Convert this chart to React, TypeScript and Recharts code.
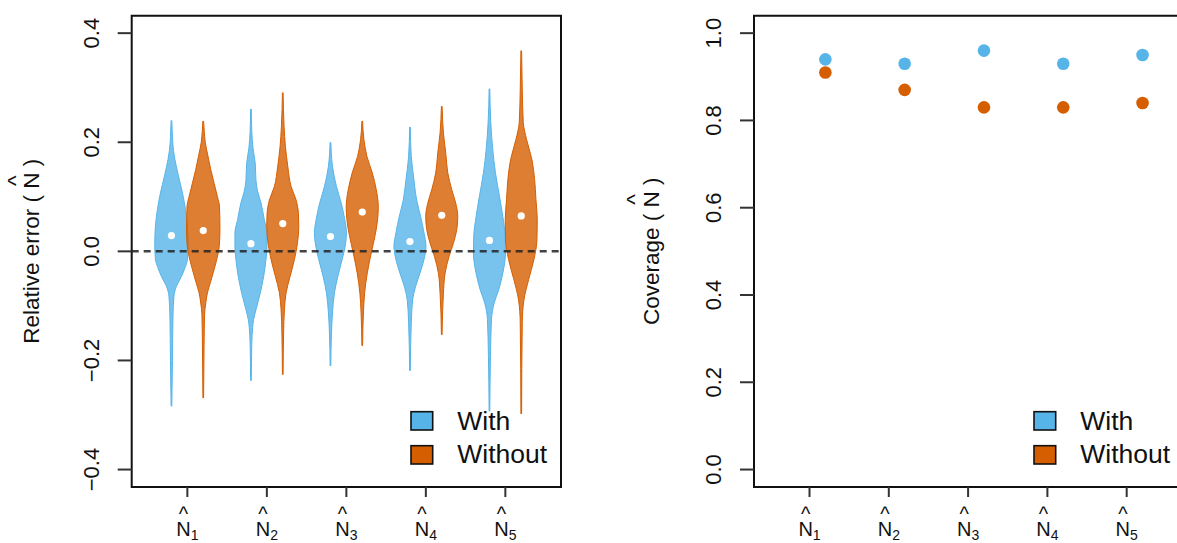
import { Area, ComposedChart, Legend, ReferenceArea, ReferenceLine, Scatter, XAxis, YAxis } from "recharts"

const estimators = ["1", "2", "3", "4", "5"]
const groups = ["With", "Without"]
const colors: Record<string, string> = { With: "#56B4E9", Without: "#D55E00" }

// violin outlines: [relative error, width relative to the widest part]
const withViolins: number[][][] = [
  [[-0.284, 0.02], [-0.2, 0.06], [-0.12, 0.09], [-0.082, 0.15], [-0.064, 0.3], [-0.046, 0.6], [-0.03, 0.81], [-0.015, 0.96], [0.013, 1.0], [0.046, 0.96], [0.077, 0.84], [0.107, 0.66], [0.138, 0.42], [0.168, 0.21], [0.185, 0.12], [0.21, 0.06], [0.24, 0.02]],
  [[-0.237, 0.02], [-0.17, 0.05], [-0.14, 0.1], [-0.125, 0.16], [-0.107, 0.3], [-0.076, 0.56], [-0.046, 0.76], [-0.015, 0.9], [0.009, 0.96], [0.034, 0.96], [0.058, 0.8], [0.089, 0.6], [0.11, 0.4], [0.13, 0.3], [0.16, 0.26], [0.19, 0.12], [0.22, 0.05], [0.261, 0.02]],
  [[-0.21, 0.02], [-0.15, 0.06], [-0.113, 0.12], [-0.076, 0.24], [-0.046, 0.44], [-0.015, 0.7], [0.009, 0.88], [0.034, 0.96], [0.058, 0.86], [0.089, 0.64], [0.119, 0.36], [0.156, 0.12], [0.18, 0.05], [0.2, 0.02]],
  [[-0.219, 0.02], [-0.131, 0.08], [-0.089, 0.16], [-0.064, 0.34], [-0.04, 0.6], [-0.015, 0.84], [0.009, 0.96], [0.034, 0.84], [0.064, 0.64], [0.094, 0.4], [0.131, 0.24], [0.174, 0.08], [0.228, 0.02]],
  [[-0.293, 0.02], [-0.193, 0.06], [-0.125, 0.12], [-0.095, 0.28], [-0.07, 0.56], [-0.04, 0.8], [-0.003, 0.96], [0.028, 0.94], [0.064, 0.8], [0.101, 0.6], [0.144, 0.36], [0.186, 0.2], [0.236, 0.08], [0.298, 0.02]],
]
const withoutViolins: number[][][] = [
  [[-0.269, 0.02], [-0.17, 0.05], [-0.115, 0.08], [-0.095, 0.15], [-0.076, 0.25], [-0.055, 0.45], [-0.03, 0.68], [-0.005, 0.88], [0.01, 0.96], [0.04, 1.0], [0.083, 0.97], [0.1, 0.85], [0.125, 0.65], [0.15, 0.45], [0.175, 0.28], [0.2, 0.12], [0.22, 0.06], [0.239, 0.02]],
  [[-0.226, 0.02], [-0.15, 0.05], [-0.107, 0.1], [-0.076, 0.2], [-0.046, 0.44], [-0.015, 0.7], [0.015, 0.88], [0.046, 0.96], [0.069, 0.94], [0.094, 0.8], [0.119, 0.5], [0.156, 0.3], [0.192, 0.16], [0.229, 0.08], [0.26, 0.04], [0.291, 0.02]],
  [[-0.173, 0.02], [-0.113, 0.07], [-0.077, 0.14], [-0.04, 0.3], [-0.003, 0.54], [0.028, 0.76], [0.058, 0.92], [0.082, 0.96], [0.113, 0.84], [0.144, 0.6], [0.174, 0.28], [0.205, 0.1], [0.239, 0.02]],
  [[-0.153, 0.02], [-0.077, 0.1], [-0.04, 0.2], [-0.009, 0.44], [0.015, 0.7], [0.04, 0.9], [0.064, 0.96], [0.088, 0.84], [0.113, 0.6], [0.144, 0.36], [0.18, 0.24], [0.217, 0.1], [0.266, 0.02]],
  [[-0.298, 0.02], [-0.131, 0.06], [-0.089, 0.16], [-0.052, 0.44], [-0.015, 0.76], [0.021, 0.94], [0.058, 0.96], [0.095, 0.88], [0.132, 0.8], [0.168, 0.64], [0.205, 0.32], [0.236, 0.12], [0.297, 0.06], [0.368, 0.02]],
]
const withMedians = [0.029, 0.014, 0.027, 0.018, 0.02]
const withoutMedians = [0.038, 0.051, 0.072, 0.066, 0.065]

// coverage, right panel
const coverageWith = [0.94, 0.93, 0.96, 0.93, 0.95]
const coverageWithout = [0.91, 0.87, 0.83, 0.83, 0.84]

const errorTicks = [-0.4, -0.2, 0, 0.2, 0.4]
const coverageTicks = [0, 0.2, 0.4, 0.6, 0.8, 1]
const catTicks = [1, 2, 3, 4, 5]

const FONT = '"Liberation Sans", Arial, sans-serif'
const INK = "#111"
const dodge = 0.2
const halfWidth = 0.21

const violins = [
  ...withViolins.map((profile, i) => ({ key: `with${i}`, group: "With", pos: i + 1 - dodge, profile })),
  ...withoutViolins.map((profile, i) => ({ key: `without${i}`, group: "Without", pos: i + 1 + dodge, profile })),
]

// one row per outline point, other violins get [null, null] so their areas break there
const violinRows = violins.flatMap((v) =>
  v.profile.map(([y, d]) => {
    const row: Record<string, any> = { y }
    violins.forEach((o) => {
      row[o.key] = o.key === v.key ? [v.pos - d * halfWidth, v.pos + d * halfWidth] : [null, null]
    })
    return row
  })
)

const medianData = (vals: number[], shift: number) => vals.map((y, i) => ({ x: i + 1 + shift, y }))
const coverageData = (vals: number[]) => vals.map((y, i) => ({ x: i + 1 + dodge, y }))

const fmt = (v: number) => (v < 0 ? "\u2212" + Math.abs(v).toFixed(1) : v.toFixed(1))

function RotTick(props: any) {
  const { x, y, payload } = props
  const bx = x - 18.5
  return (
    <text x={bx} y={y} transform={`rotate(-90, ${bx}, ${y})`} textAnchor="middle" fontSize={22} fill={INK} fontFamily={FONT}>
      {fmt(payload.value)}
    </text>
  )
}

// N with a hat and a subscript, kept in one text element
function HatTick(props: any) {
  const { x, y, payload } = props
  const sub = estimators[Math.round(payload.value) - 1]
  const fs = 20
  const nW = fs * 0.722
  const hatW = fs * 0.469
  return (
    <text x={x - 11.1} y={y + 38.7} fontSize={fs} fill={INK} fontFamily={FONT}>
      N
      <tspan dx={-(nW + hatW) / 2} dy={-14.7}>
        ^
      </tspan>
      <tspan dx={(nW - hatW) / 2} dy={18.7} fontSize={14}>
        {sub}
      </tspan>
    </text>
  )
}

function AxisTitle({ viewBox, prefix, dx }: any) {
  const fs = 22.5
  const cx = viewBox.x + dx
  const cy = viewBox.y + viewBox.height / 2
  return (
    <text
      x={cx}
      y={cy}
      transform={`rotate(-90, ${cx}, ${cy})`}
      textAnchor="middle"
      fontFamily={FONT}
      fontSize={fs}
      fill={INK}
      style={{ whiteSpace: "pre" }}
    >
      {prefix + "( N"}
      <tspan dx={-fs * 0.5955} dy={-fs * 0.72}>
        ^
      </tspan>
      <tspan dx={fs * 0.1265} dy={fs * 0.72}>
        {" )"}
      </tspan>
    </text>
  )
}

function BoxLegend() {
  return (
    <svg width={175} height={70} style={{ display: "block" }}>
      {groups.map((g, i) => (
        <g key={g}>
          <rect x={2} y={6.7 + i * 34} width={21.7} height={18.3} fill={colors[g]} stroke={INK} strokeWidth={1.6} />
          <text x={48.3} y={25 + i * 33} fontSize={26.5} fontFamily={FONT} fill={INK}>
            {g}
          </text>
        </g>
      ))}
    </svg>
  )
}

function ViolinPanel() {
  return (
    <ComposedChart
      width={580}
      height={543}
      data={violinRows}
      layout="vertical"
      margin={{ top: 15.7, right: 19, bottom: 0, left: 0 }}
    >
      <XAxis
        type="number"
        domain={[0.3, 5.7]}
        ticks={catTicks}
        allowDataOverflow
        height={56}
        tickSize={10}
        tickMargin={0}
        axisLine={false}
        tickLine={{ stroke: "#333", strokeWidth: 2 }}
        tick={<HatTick />}
        interval={0}
      />
      <YAxis
        type="number"
        dataKey="y"
        reversed
        domain={[-0.432, 0.432]}
        ticks={errorTicks}
        allowDataOverflow
        width={131.7}
        tickSize={14}
        tickMargin={0}
        axisLine={false}
        tickLine={{ stroke: "#333", strokeWidth: 2 }}
        tick={<RotTick />}
        interval={0}
        label={(p: any) => <AxisTitle viewBox={p.viewBox ?? p} prefix="Relative error " dx={39.5} />}
      />
      {violins.map((v) => (
        <Area
          key={v.key}
          dataKey={v.key}
          name={v.group}
          type="monotone"
          fill={colors[v.group]}
          fillOpacity={0.8}
          stroke={colors[v.group]}
          strokeWidth={1}
          dot={false}
          activeDot={false}
          isAnimationActive={false}
        />
      ))}
      <ReferenceLine y={0} stroke="#222" strokeWidth={2.5} strokeDasharray="7 5" strokeOpacity={0.85} />
      {groups.map((g) => (
        <Scatter
          key={g}
          data={g === "With" ? medianData(withMedians, -dodge) : medianData(withoutMedians, dodge)}
          dataKey="x"
          legendType="none"
          isAnimationActive={false}
          shape={(p: any) => <circle cx={p.cx} cy={p.cy} r={3.6} fill="#fff" />}
        />
      ))}
      <ReferenceArea x1={0.3} x2={5.7} y1={-0.432} y2={0.432} fill="none" stroke={INK} strokeWidth={2} ifOverflow="visible" />
      <Legend
        layout="horizontal"
        verticalAlign="middle"
        align="center"
        wrapperStyle={{ left: 409, top: 405, width: "auto" }}
        content={() => <BoxLegend />}
      />
    </ComposedChart>
  )
}

function CoveragePanel() {
  return (
    <ComposedChart width={600} height={543} margin={{ top: 15.7, right: 17.8, bottom: 0, left: 0 }}>
      <XAxis
        type="number"
        dataKey="x"
        domain={[0.3, 5.7]}
        ticks={catTicks}
        allowDataOverflow
        height={56}
        tickSize={10}
        tickMargin={0}
        axisLine={false}
        tickLine={{ stroke: "#333", strokeWidth: 2 }}
        tick={<HatTick />}
        interval={0}
      />
      <YAxis
        type="number"
        dataKey="y"
        domain={[-0.04, 1.04]}
        ticks={coverageTicks}
        allowDataOverflow
        width={154}
        tickSize={14}
        tickMargin={0}
        axisLine={false}
        tickLine={{ stroke: "#333", strokeWidth: 2 }}
        tick={<RotTick />}
        interval={0}
        label={(p: any) => <AxisTitle viewBox={p.viewBox ?? p} prefix="Coverage " dx={58.6} />}
      />
      {groups.map((g) => (
        <Scatter
          key={g}
          name={g}
          data={g === "With" ? coverageData(coverageWith) : coverageData(coverageWithout)}
          fill={colors[g]}
          isAnimationActive={false}
          shape={(p: any) => <circle cx={p.cx} cy={p.cy} r={6.3} fill={colors[g]} />}
        />
      ))}
      <ReferenceArea x1={0.3} x2={5.7} y1={-0.04} y2={1.04} fill="none" stroke={INK} strokeWidth={2} ifOverflow="visible" />
      <Legend
        layout="horizontal"
        verticalAlign="middle"
        align="center"
        wrapperStyle={{ left: 431.7, top: 405, width: "auto" }}
        content={() => <BoxLegend />}
      />
    </ComposedChart>
  )
}

export default function App() {
  return (
    <div
      style={{
        position: "absolute",
        left: 0,
        top: 0,
        width: 1177,
        height: 543,
        overflow: "hidden",
        background: "#fff",
        fontFamily: FONT,
      }}
    >
      <div style={{ position: "absolute", left: 0, top: 0 }}>
        <ViolinPanel />
      </div>
      <div style={{ position: "absolute", left: 600, top: 0 }}>
        <CoveragePanel />
      </div>
    </div>
  )
}
